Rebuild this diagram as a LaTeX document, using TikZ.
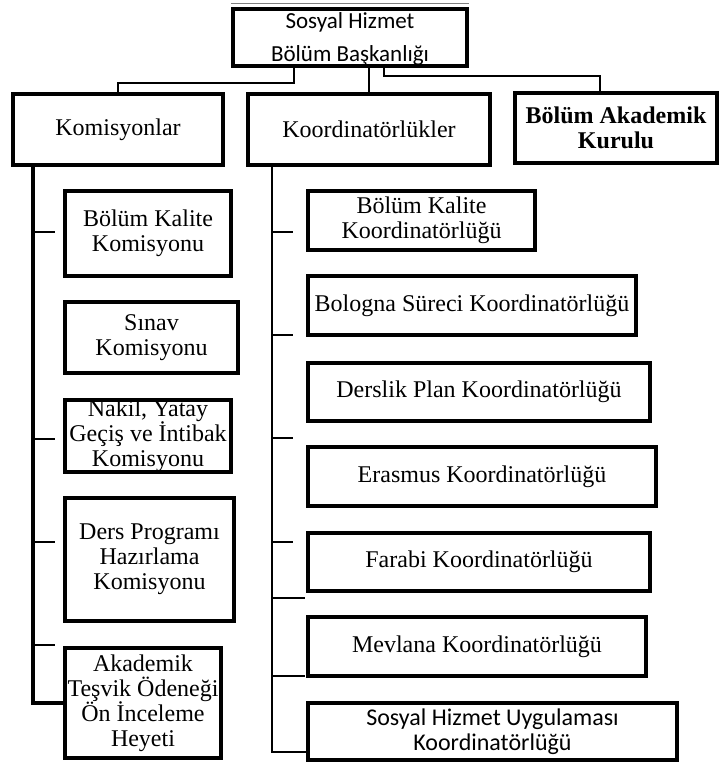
\documentclass[tikz,border=0pt]{standalone}
\usepackage{fontspec}
\setmainfont{Liberation Serif}
\newfontfamily\calibri{Carlito}
\begin{document}
\begin{tikzpicture}[x=1pt,y=-1pt,
  box/.style={draw, line width=3.5pt, align=center, inner sep=0pt,
    font=\fontsize{24}{25}\selectfont},
  conn/.style={line width=2pt},
  bus/.style={line width=4pt},
]
\useasboundingbox (0,0) rectangle (722,763);
% top
\node[box, minimum width=234pt, minimum height=57pt,
  font=\calibri\fontsize{23}{24}\selectfont] (top) at (350,37.5)
  {\raisebox{-9pt}[0pt][0pt]{\begin{tabular}{@{}c@{}}Sosyal Hizmet\\[9pt]Bölüm Başkanlığı\end{tabular}}};
\draw[gray, line width=1pt] ([yshift=4pt]top.north west) -- ([yshift=4pt]top.north east);
% second level
\node[box, minimum width=210pt, minimum height=71pt] (kom) at (118,129.5) {Komisyonlar};
\node[box, minimum width=242pt, minimum height=71pt] (koord) at (369,129.5) {Koordinatörlükler};
\node[box, minimum width=202pt, minimum height=70pt, line width=4pt,
  font=\bfseries\fontsize{24}{25}\selectfont] (bak) at (616,128) {Bölüm Akademik\\Kurulu};
% left boxes
\node[box, minimum width=166pt, minimum height=85pt] (bkk) at (148,233.5) {Bölüm Kalite\\Komisyonu};
\node[box, minimum width=173pt, minimum height=71pt] (sin) at (151.5,337.5) {Sınav\\Komisyonu};
\node[box, minimum width=166pt, minimum height=72pt] (nak) at (148,436) {Nakil, Yatay\\Geçiş ve İntibak\\Komisyonu};
\node[box, minimum width=169pt, minimum height=123pt, line width=4pt] (ders) at (149.5,559.5) {Ders Programı\\Hazırlama\\Komisyonu};
\node[box, minimum width=156pt, minimum height=110pt] (akt) at (143,703) {Akademik\\Teşvik Ödeneği\\Ön İnceleme\\Heyeti};
% middle boxes
\node[box, minimum width=227pt, minimum height=59pt] (bkko) at (421.5,220.5) {Bölüm Kalite\\Koordinatörlüğü};
\node[box, minimum width=328pt, minimum height=59pt] (bol) at (472,305.5) {Bologna Süreci Koordinatörlüğü};
\node[box, minimum width=342pt, minimum height=58pt] (der) at (479,392) {Derslik Plan Koordinatörlüğü};
\node[box, minimum width=348pt, minimum height=59pt] (era) at (482,476.5) {Erasmus Koordinatörlüğü};
\node[box, minimum width=342pt, minimum height=58pt] (far) at (479,562) {Farabi Koordinatörlüğü};
\node[box, minimum width=338pt, minimum height=59pt] (mev) at (477,646.5) {Mevlana Koordinatörlüğü};
\node[box, minimum width=369pt, minimum height=57pt,
  font=\calibri\fontsize{24}{25}\selectfont] (shu) at (492.5,731.5) {Sosyal Hizmet Uygulaması\\Koordinatörlüğü};
% connectors from top
\coordinate (j1) at (294,83);
\draw[conn] (top.south -| j1) -- (j1) -| (kom.north);
\draw[conn] (top.south -| koord.north) -- (koord.north);
\coordinate (j2) at (384,76);
\coordinate (j3) at (600,76);
\draw[conn] (top.south -| j2) -- (j2) -- (j3) -- (bak.north -| j3);
% left bus
\coordinate (lb) at (33,0);
\draw[bus] (kom.south -| lb) |- (akt.west);
\coordinate (lt1) at (55,232);
\coordinate (lt2) at (55,439);
\coordinate (lt3) at (55,542);
\coordinate (lt4) at (55,645);
\foreach \t in {lt1,lt2,lt3,lt4} \draw[conn] (\t -| lb) -- (\t);
% middle bus
\coordinate (mb) at (272,752);
\coordinate (me) at (306,752);
\draw[conn] (koord.south -| mb) -- (mb) -- (me);
\coordinate (mt1) at (293,232);
\coordinate (mt2) at (293,335);
\coordinate (mt3) at (293,438);
\coordinate (mt4) at (293,542);
\coordinate (mt5) at (305,598);
\coordinate (mt6) at (305,676);
\foreach \t in {mt1,mt2,mt3,mt4,mt5,mt6} \draw[conn] (\t -| mb) -- (\t);
\end{tikzpicture}
\end{document}
